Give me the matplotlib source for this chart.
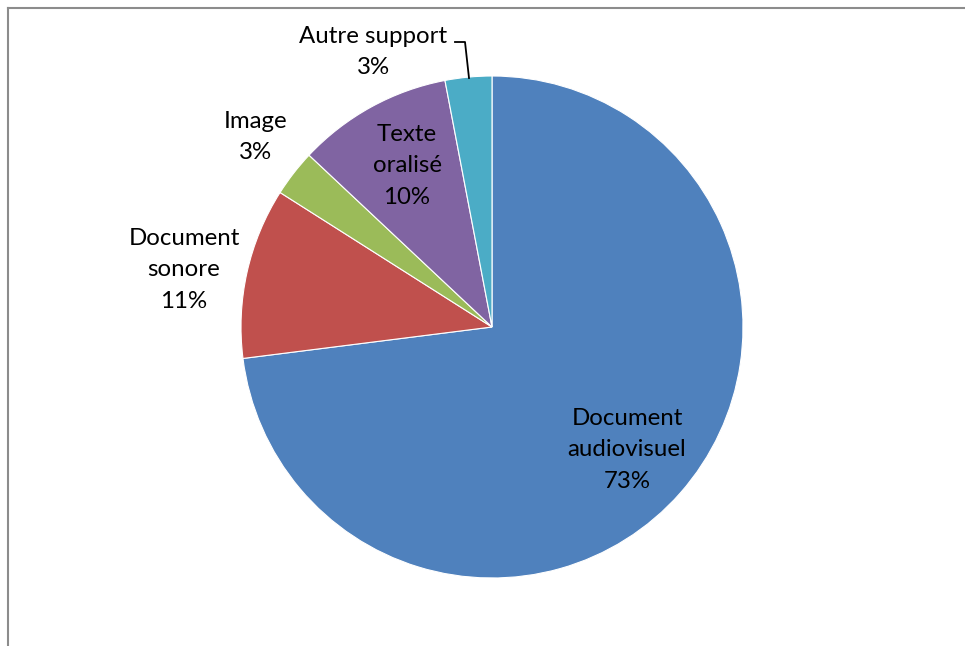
import matplotlib
matplotlib.use("Agg")
import matplotlib.pyplot as plt
from matplotlib.lines import Line2D

# donnees
categories = ["Document\naudiovisuel", "Document\nsonore", "Image", "Texte\noralisé", "Autre support"]
valeurs = [73, 11, 3, 10, 3]
couleurs = ["#4F81BD", "#C0504D", "#9BBB59", "#8064A2", "#4BACC6"]

W, H = 965, 646
fig = plt.figure(figsize=(W / 100, H / 100), dpi=100)
ax = fig.add_axes([0, 0, 1, 1])
ax.axis("off")

# centre et rayon en pixels (y vers le haut)
cx, cy, r = 492, H - 327, 251
wedges, _ = ax.pie(valeurs, colors=couleurs, startangle=90, counterclock=False,
                   center=(cx, cy), radius=r,
                   wedgeprops=dict(edgecolor="white", linewidth=0.8))
ax.set_xlim(0, W)
ax.set_ylim(0, H)
ax.set_aspect("auto")

police = dict(family=["Lato", "DejaVu Sans"], fontsize=17.3, color="black",
              ha="center", va="center", linespacing=1.6)

# positions des etiquettes (pixels de l'image, y vers le bas)
pos = [(627, 450), (184, 270), (256, 137), (407, 166), (373, 52)]
for lab, v, (x, y) in zip(categories, valeurs, pos):
    ax.text(x, H - y, f"{lab}\n{v}%", **police)

# ligne de rappel pour "Autre support"
ax.add_line(Line2D([455, 465, 469], [H - 42, H - 42, H - 78],
                   color="black", lw=1.3))

# cadre (haut et gauche seulement visibles)
fig.add_artist(Line2D([7.5 / W, 1], [1 - 8 / H, 1 - 8 / H], color="#8c8c8c", lw=1.5,
                      transform=fig.transFigure))
fig.add_artist(Line2D([7.5 / W, 7.5 / W], [0, 1 - 8 / H], color="#8c8c8c", lw=1.5,
                      transform=fig.transFigure))

fig.savefig("out.png", dpi=100, facecolor="white")
